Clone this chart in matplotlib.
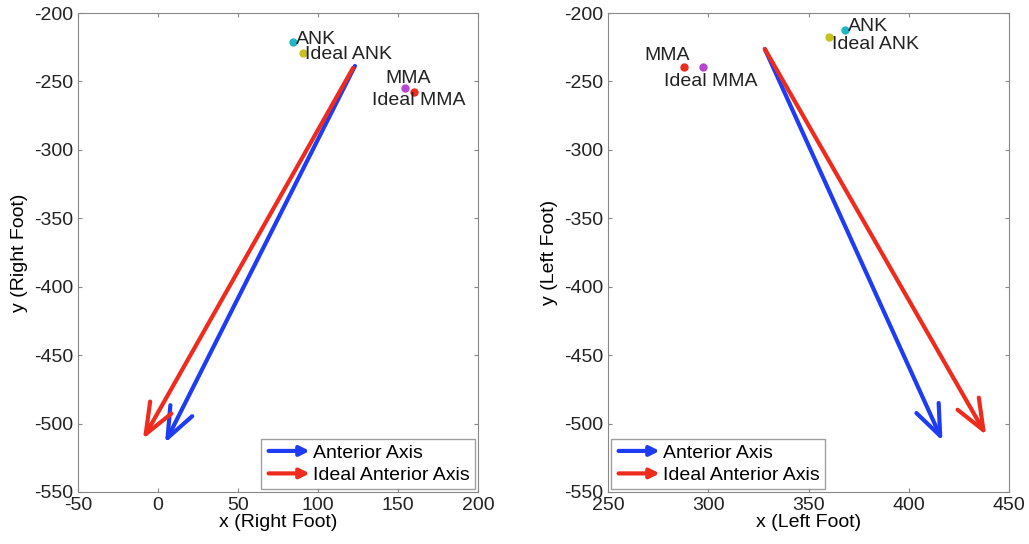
import matplotlib.pyplot as plt
from matplotlib.patches import FancyArrowPatch
from matplotlib.legend_handler import HandlerPatch

plt.rcParams['font.family'] = ['Liberation Sans', 'DejaVu Sans']
plt.rcParams['font.size'] = 14
plt.rcParams['axes.unicode_minus'] = False

# right foot
r_pts = {'ANK': (84.4, -221.2), 'Ideal ANK': (90.6, -229.2),
         'MMA': (154.4, -254.8), 'Ideal MMA': (160.0, -257.7)}
r_lbl = {'ANK': (86.3, -219.7), 'Ideal ANK': (91.9, -230.0),
         'MMA': (141.9, -247.5), 'Ideal MMA': (133.8, -264.3)}
r_axis = (123.1, -238.7, 4.4, -514.2)
r_ideal = (121.9, -240.2, -9.4, -511.3)

# left foot
l_pts = {'ANK': (368.3, -212.4), 'Ideal ANK': (360.4, -217.5),
         'MMA': (297.5, -239.5), 'Ideal MMA': (288.1, -239.5)}
l_lbl = {'ANK': (369.8, -210.2), 'Ideal ANK': (361.9, -222.7),
         'MMA': (268.3, -230.7), 'Ideal MMA': (277.7, -249.7)}
l_axis = (328.2, -226.3, 416.8, -512.7)
l_ideal = (328.2, -226.3, 438.6, -508.4)

pt_colors = {'ANK': '#22b5c5', 'Ideal ANK': '#c8c21e',
             'MMA': '#b447d2', 'Ideal MMA': '#ee2b1c'}
blue = '#1f3cf5'
red = '#ee2b1c'


class HandlerArrow(HandlerPatch):
    def create_artists(self, legend, orig_handle, xdescent, ydescent,
                       width, height, fontsize, trans):
        y = 0.5 * height - ydescent
        p = FancyArrowPatch((-xdescent, y), (width - xdescent, y),
                            arrowstyle='-|>', mutation_scale=14, lw=3,
                            color=orig_handle.get_edgecolor())
        p.set_transform(trans)
        return [p]


def draw(ax, pts, lbl, ax_arrow, ideal_arrow, xlim, xlabel, ylabel, legloc):
    for k in pts:
        ax.plot(*pts[k], 'o', ms=5, color=pt_colors[k], zorder=3)
    for k in lbl:
        ax.text(lbl[k][0], lbl[k][1], k, ha='left', va='center', color='#222222')
    h = []
    for (x0, y0, x1, y1), c in ((ideal_arrow, red), (ax_arrow, blue)):
        a = FancyArrowPatch((x0, y0), (x1, y1), arrowstyle='->,head_length=0.55,head_width=0.22',
                            mutation_scale=40, lw=3, color=c, shrinkA=0, shrinkB=0,
                            zorder=2 if c == red else 1)
        ax.add_patch(a)
        h.append(a)
    ax.set_xlim(xlim)
    ax.set_ylim(-550, -200)
    ax.set_xlabel(xlabel, labelpad=0)
    ax.set_ylabel(ylabel, labelpad=4)
    ax.tick_params(direction='in', top=True, right=True, length=3, color='#888888',
                   labelcolor='#222222')
    for s in ax.spines.values():
        s.set_color('#888888')
    leg = ax.legend([h[1], h[0]], ['Anterior Axis', 'Ideal Anterior Axis'], loc=legloc,
                    handler_map={FancyArrowPatch: HandlerArrow()}, fancybox=False,
                    handlelength=2.4, handletextpad=0.05, borderpad=0.25, labelspacing=0.25,
                    borderaxespad=0.15)
    leg.get_frame().set_edgecolor('#888888')


fig = plt.figure(figsize=(10.29, 5.44), dpi=100)
ax1 = fig.add_axes([0.0758, 0.0956, 0.3887, 0.8805])
ax2 = fig.add_axes([0.5909, 0.0956, 0.3897, 0.8805])

draw(ax1, r_pts, r_lbl, r_axis, r_ideal, (-50, 200), 'x (Right Foot)', 'y (Right Foot)',
     'lower right')
draw(ax2, l_pts, l_lbl, l_axis, l_ideal, (250, 450), 'x (Left Foot)', 'y (Left Foot)',
     'lower left')

fig.savefig('out.png', dpi=100)
